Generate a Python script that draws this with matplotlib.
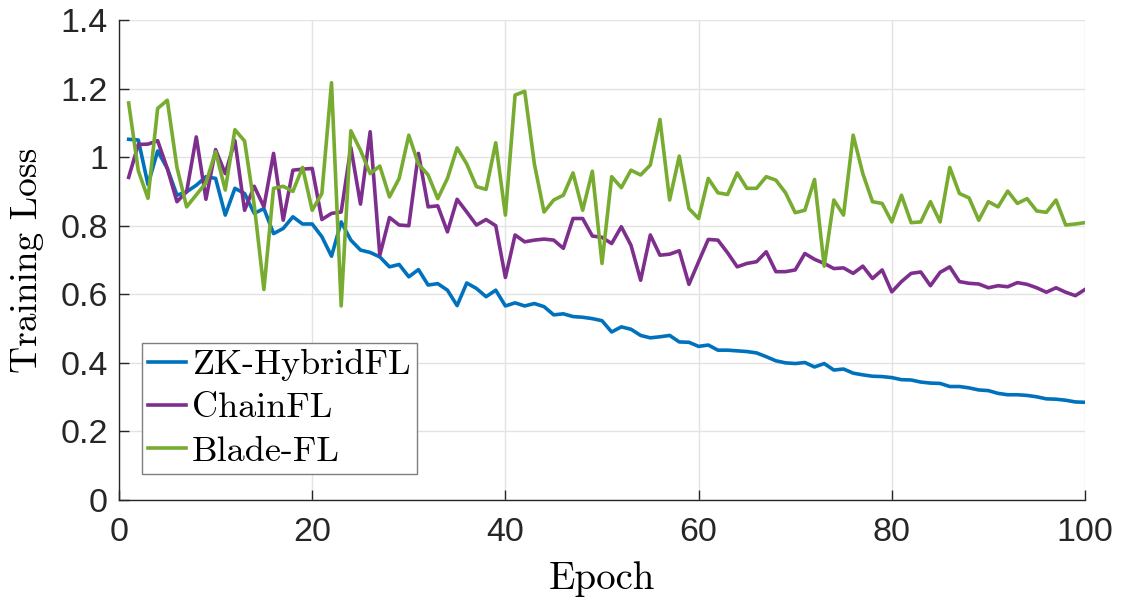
import matplotlib
matplotlib.use("Agg")
import matplotlib.pyplot as plt
import numpy as np

epochs = list(range(1, 101))

zk_hybridfl = [
    1.052, 1.05, 0.92, 1.018, 0.967, 0.889, 0.899, 0.918, 0.943, 0.938,
    0.831, 0.909, 0.894, 0.836, 0.85, 0.777, 0.792, 0.826, 0.805, 0.805,
    0.768, 0.711, 0.811, 0.758, 0.729, 0.722, 0.709, 0.68, 0.687, 0.651,
    0.672, 0.627, 0.631, 0.612, 0.567, 0.633, 0.617, 0.593, 0.612, 0.566,
    0.575, 0.566, 0.573, 0.564, 0.54, 0.543, 0.535, 0.533, 0.529, 0.523,
    0.49, 0.505, 0.498, 0.48, 0.473, 0.476, 0.48, 0.461, 0.46, 0.448,
    0.452, 0.437, 0.437, 0.435, 0.433, 0.429, 0.418, 0.406, 0.4, 0.398,
    0.401, 0.388, 0.398, 0.379, 0.382, 0.37, 0.365, 0.361, 0.36, 0.357,
    0.351, 0.35, 0.344, 0.341, 0.34, 0.331, 0.331, 0.327, 0.321, 0.319,
    0.311, 0.307, 0.307, 0.305, 0.301, 0.295, 0.294, 0.291, 0.286, 0.285,
]

chainfl = [
    0.941, 1.037, 1.038, 1.048, 0.967, 0.87, 0.899, 1.059, 0.877, 1.022,
    0.952, 1.048, 0.845, 0.915, 0.855, 1.011, 0.816, 0.962, 0.965, 0.967,
    0.818, 0.836, 0.84, 1.028, 0.863, 1.074, 0.714, 0.824, 0.802, 0.80,
    1.011, 0.855, 0.858, 0.782, 0.877, 0.84, 0.802, 0.818, 0.80, 0.649,
    0.773, 0.753, 0.758, 0.761, 0.758, 0.734, 0.821, 0.821, 0.77, 0.766,
    0.748, 0.797, 0.743, 0.641, 0.773, 0.714, 0.717, 0.727, 0.629, 0.695,
    0.76, 0.758, 0.721, 0.68, 0.69, 0.695, 0.724, 0.666, 0.666, 0.671,
    0.719, 0.702, 0.69, 0.675, 0.677, 0.661, 0.682, 0.646, 0.671, 0.607,
    0.637, 0.661, 0.665, 0.625, 0.664, 0.68, 0.637, 0.632, 0.63, 0.619,
    0.625, 0.622, 0.634, 0.629, 0.619, 0.606, 0.619, 0.606, 0.596, 0.614,
]

blade_fl = [
    1.158, 0.96, 0.88, 1.142, 1.166, 0.97, 0.855, 0.89, 0.925, 1.016,
    0.904, 1.08, 1.047, 0.86, 0.614, 0.909, 0.915, 0.90, 0.97, 0.845,
    0.894, 1.217, 0.566, 1.077, 1.02, 0.952, 0.974, 0.884, 0.938, 1.064,
    0.98, 0.948, 0.879, 0.938, 1.027, 0.98, 0.914, 0.906, 1.042, 0.831,
    1.181, 1.192, 0.98, 0.84, 0.875, 0.889, 0.954, 0.845, 0.959, 0.69,
    0.943, 0.911, 0.962, 0.948, 0.977, 1.11, 0.875, 1.003, 0.85, 0.821,
    0.938, 0.896, 0.891, 0.954, 0.909, 0.909, 0.943, 0.933, 0.896, 0.838,
    0.845, 0.935, 0.682, 0.875, 0.831, 1.064, 0.952, 0.87, 0.865, 0.811,
    0.889, 0.809, 0.811, 0.87, 0.811, 0.97, 0.894, 0.881, 0.816, 0.87,
    0.855, 0.901, 0.865, 0.879, 0.843, 0.839, 0.875, 0.802, 0.805, 0.809,
]

series_names = ["ZK-HybridFL", "ChainFL", "Blade-FL"]
x_ticks = [0, 20, 40, 60, 80, 100]
y_ticks = [0, 0.2, 0.4, 0.6, 0.8, 1.0, 1.2, 1.4]
y_tick_labels = ["0", "0.2", "0.4", "0.6", "0.8", "1", "1.2", "1.4"]

colors = ["#0072BD", "#7E2F8E", "#77AC30"]

fig = plt.figure(figsize=(11.22, 6.04), dpi=100)
ax = fig.add_axes([119 / 1122, 1 - 500 / 604, 966 / 1122, 480 / 604])

for ys, name, c in zip([zk_hybridfl, chainfl, blade_fl], series_names, colors):
    ax.plot(epochs, ys, color=c, lw=2.6, label=name)

ax.set_xlim(0, 100)
ax.set_ylim(0, 1.4)
ax.set_xticks(x_ticks)
ax.set_yticks(y_ticks)
ax.set_yticklabels(y_tick_labels)

for lab in ax.get_xticklabels() + ax.get_yticklabels():
    lab.set_fontfamily("Liberation Sans")
    lab.set_fontsize(24.5)
    lab.set_color("#262626")

ax.tick_params(direction="in", length=7, width=1, color="#262626", pad=8)
ax.tick_params(axis="x", pad=12)
ax.grid(True, color="#e3e3e3", lw=1)
ax.set_axisbelow(True)
for s in ["top", "right"]:
    ax.spines[s].set_visible(False)
for s in ["left", "bottom"]:
    ax.spines[s].set_color("#262626")
    ax.spines[s].set_linewidth(1)

ax.set_xlabel("Epoch", family="cmr10", size=28, labelpad=10)
ax.set_ylabel("Training Loss", family="cmr10", size=27, labelpad=12)

leg = ax.legend(loc="lower left", bbox_to_anchor=(0.0238, 0.054), borderaxespad=0,
                prop=dict(family="cmr10", size=26), frameon=True, fancybox=False,
                handlelength=1.05, handletextpad=0.15, labelspacing=0.3, borderpad=0.18)
leg.get_frame().set_edgecolor("#7f7f7f")
leg.get_frame().set_linewidth(1)
leg.get_frame().set_alpha(1)

fig.savefig("out.png", dpi=100)
